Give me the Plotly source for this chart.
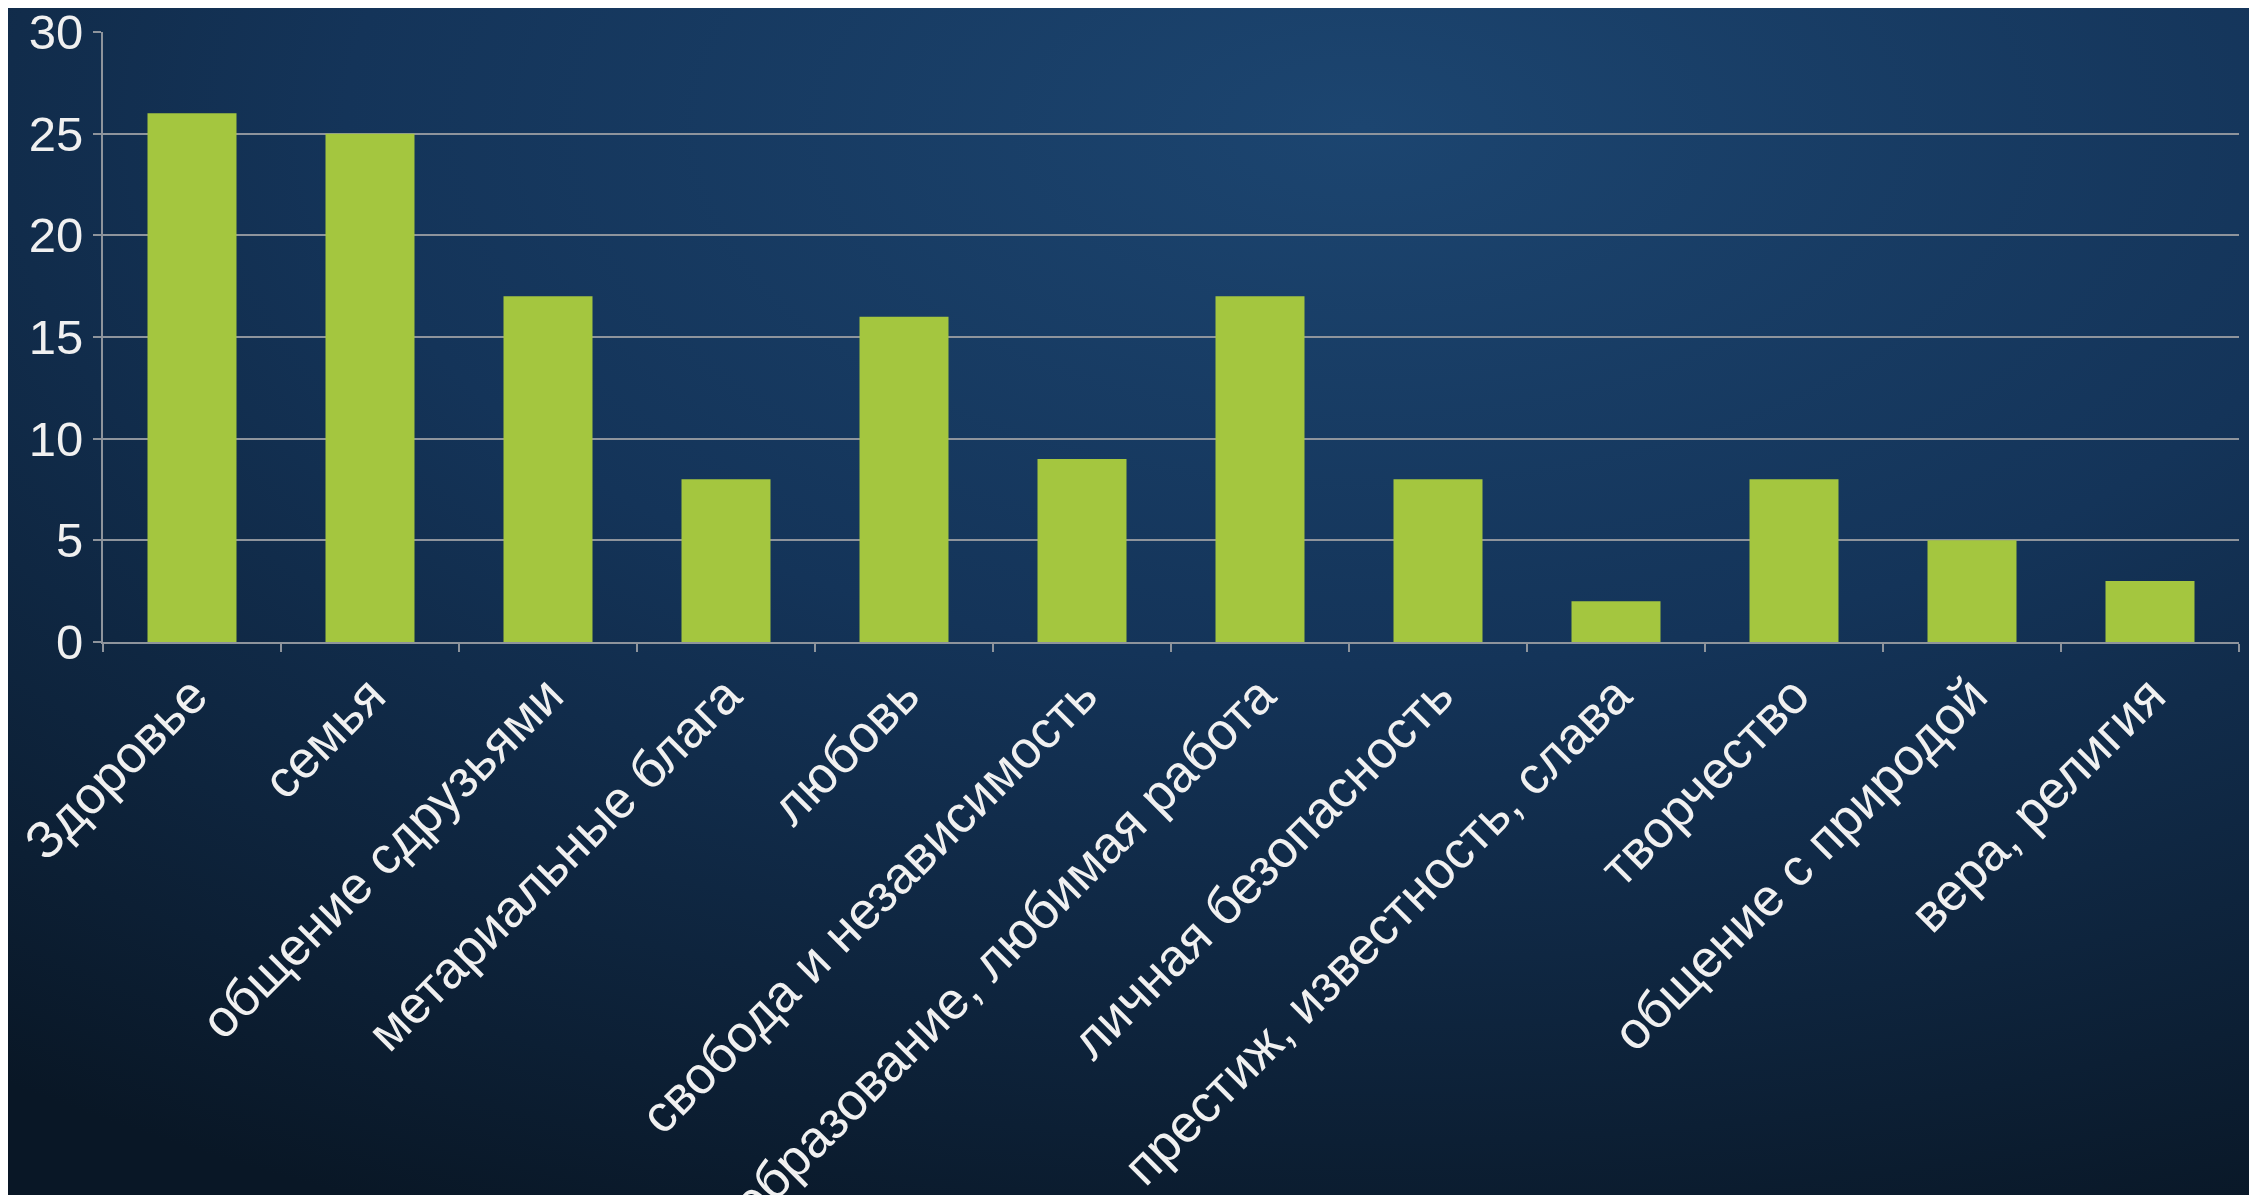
import base64
import plotly.graph_objects as go

categories = [
    "Здоровье", "семья", "общение сдрузьями", "метариальные блага", "любовь",
    "свобода и независимость", "образование, любимая работа", "личная безопасность",
    "престиж, известность, слава", "творчество", "общение с природой", "вера, религия",
]
values = [26, 25, 17, 8, 16, 9, 17, 8, 2, 8, 5, 3]
y_ticks = [0, 5, 10, 15, 20, 25, 30]

W, H = 2257, 1195
L, R, T, B = 95, 26, 24, 561
pw, ph = W - L - R, H - T - B

svg = f'''<svg xmlns="http://www.w3.org/2000/svg" width="{W}" height="{H}" viewBox="0 0 {W} {H}" preserveAspectRatio="none">
<defs>
<radialGradient id="g" cx="0.6" cy="0.1" r="1.0" gradientUnits="objectBoundingBox">
<stop offset="0" stop-color="#1c4570"/>
<stop offset="0.45" stop-color="#143459"/>
<stop offset="1" stop-color="#091726"/>
</radialGradient>
</defs>
<rect width="100%" height="100%" fill="url(#g)"/>
</svg>'''
src = "data:image/svg+xml;base64," + base64.b64encode(svg.encode()).decode()

fig = go.Figure(go.Bar(
    x=categories, y=values,
    marker=dict(color="#a4c63f", line=dict(width=0)),
))

fig.update_layout(
    width=W, height=H,
    margin=dict(l=L, r=R, t=T, b=B, pad=0, autoexpand=False),
    paper_bgcolor="#112a45",
    plot_bgcolor="rgba(0,0,0,0)",
    bargap=0.5,
    showlegend=False,
    font=dict(family="Liberation Sans, Arial, sans-serif", color="#f0f0f0", size=50),
    images=[dict(
        source=src, xref="paper", yref="paper",
        x=-L / pw, y=1 + T / ph, sizex=W / pw, sizey=H / ph,
        xanchor="left", yanchor="top", sizing="stretch", layer="below",
    )],
)

fig.update_xaxes(
    type="category",
    tickangle=-45,
    tickfont=dict(size=52, color="#f0f0f0"),
    showline=True, linecolor="#8e949c", linewidth=2,
    ticks="outside", ticklen=8, tickcolor="#8e949c", tickwidth=2,
    tickson="boundaries",
    showgrid=False,
    automargin=False,
    ticklabeloverflow="allow",
)
fig.update_yaxes(
    range=[0, 30],
    tickvals=y_ticks,
    tickfont=dict(size=49, color="#f0f0f0"),
    showline=True, linecolor="#8e949c", linewidth=2,
    ticks="outside", ticklen=8, tickcolor="#8e949c", tickwidth=2,
    showgrid=True, gridcolor="#8e949c", gridwidth=2,
    zeroline=False,
    automargin=False,
    ticklabeloverflow="allow",
)

fig.write_html("out.html")
